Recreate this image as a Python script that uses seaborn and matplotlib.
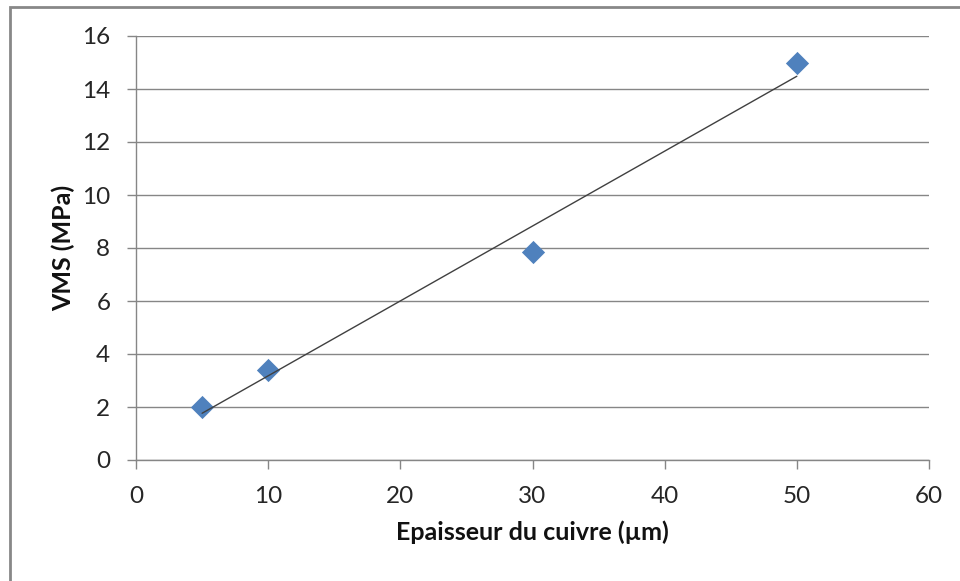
import seaborn as sns
import matplotlib.pyplot as plt
import pandas as pd
from matplotlib.patches import Rectangle

# Copper thickness (um) vs von Mises stress (MPa)
epaisseur = [5, 10, 30, 50]
vms = [2.0, 3.4, 7.85, 15.0]
x_ticks = [0, 10, 20, 30, 40, 50, 60]
y_ticks = [0, 2, 4, 6, 8, 10, 12, 14, 16]

df = pd.DataFrame({"epaisseur": epaisseur, "vms": vms})

sns.set_style("white")
plt.rcParams['font.family'] = ['Lato', 'DejaVu Sans']

fig = plt.figure(figsize=(9.6, 5.81), dpi=100)
ax = fig.add_axes([136 / 960, 1 - 460 / 581, 793 / 960, 424 / 581])

gray = '#868686'
ax.yaxis.grid(True, color=gray, linewidth=1)
ax.set_axisbelow(True)

sns.scatterplot(data=df, x="epaisseur", y="vms", marker='D', s=140,
                color='#4F81BD', linewidth=0, ax=ax, zorder=3)
sns.regplot(data=df, x="epaisseur", y="vms", ci=None, scatter=False,
            line_kws={'color': '#404040', 'linewidth': 1, 'zorder': 4}, ax=ax)

ax.set_xlim(0, 60)
ax.set_ylim(0, 16)
ax.set_xticks(x_ticks)
ax.set_yticks(y_ticks)
ax.tick_params(axis='both', direction='out', length=6.5, width=1, color=gray,
               labelsize=17.5, labelcolor='#262626', pad=12)
ax.tick_params(axis='x', bottom=True)
ax.tick_params(axis='y', left=True)

for side in ['top', 'right']:
    ax.spines[side].set_visible(False)
for side in ['left', 'bottom']:
    ax.spines[side].set_color(gray)
    ax.spines[side].set_linewidth(1)

ax.set_xlabel('Epaisseur du cuivre (µm)', fontsize=18, fontweight='bold',
              color='#111111', labelpad=10)
ax.set_ylabel('VMS (MPa)', fontsize=18, fontweight='bold', color='#111111', labelpad=5)

# outer chart frame (only left and top edges visible in the crop)
fig.patches.append(Rectangle((10 / 960, -0.1), 1.2, 1.1 - 7 / 581, transform=fig.transFigure,
                             fill=False, edgecolor='#888888', linewidth=2))

plt.savefig('out.png', dpi=100)
